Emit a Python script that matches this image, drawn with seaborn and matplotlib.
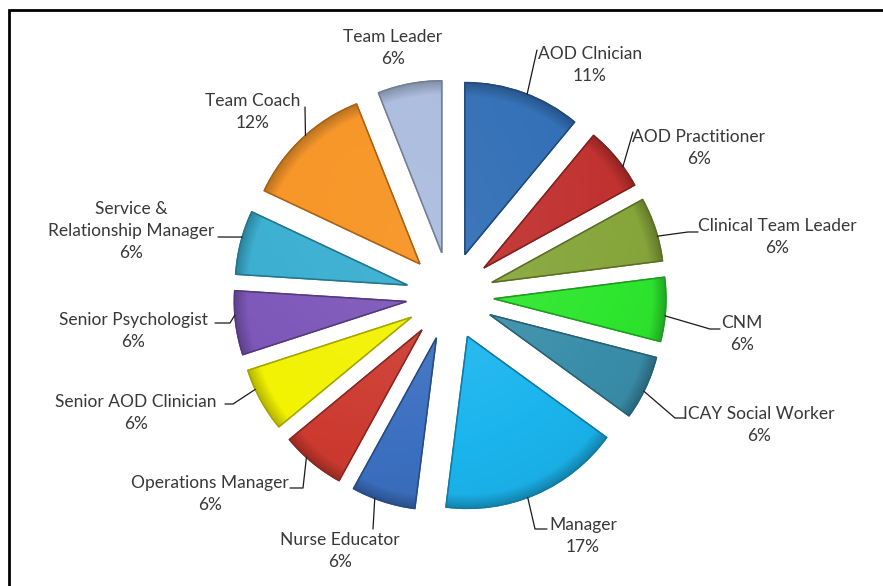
import numpy as np
import matplotlib
matplotlib.use("Agg")
import matplotlib.pyplot as plt
import seaborn as sns
from matplotlib.colors import to_rgb
from matplotlib.patches import Rectangle, Wedge

# ---- data -------------------------------------------------------------
roles = ["AOD Clnician", "AOD Practitioner", "Clinical Team Leader", "CNM",
         "ICAY Social Worker", "Manager", "Nurse Educator",
         "Operations Manager", "Senior AOD Clinician", "Senior Psychologist",
         "Service &\nRelationship Manager", "Team Coach", "Team Leader"]
shares = [11, 6, 6, 6, 6, 17, 6, 6, 6, 6, 6, 12, 6]

slice_colors = ["#2F6DB5", "#C0302E", "#86A53A", "#2EE62E", "#3A8EAA",
                "#1BB5EE", "#3B6FC0", "#CC3A30", "#F2F200", "#7B54B8",
                "#35ADD0", "#F7921F", "#A9BBDD"]

# ---- layout (pixel space, y measured from the top) --------------------
W, H = 883, 586
PIE_X, PIE_Y = 450, 296
RADIUS = 172
EXPLODE = 44

# angle (deg) on each wedge's rim where its leader line starts; None = no line
leader_angle = [68.8, 36.1, 15.6, -5.7, -26.4, -69.5, -111.0, -132.2,
                -155.2, -175.5, 163.8, 131.7, None]
# remaining vertices of each leader line
leader_path = [[(537, 50)], [(633, 132)], [(688, 232), (698, 232)],
               [(710, 329), (720, 329)], [(675, 418), (685, 418)],
               [(535, 529), (547, 529)], [(373, 529)],
               [(303, 488), (290, 488)], [(233, 404), (225, 404)],
               [(230, 323), (215, 323)], [(218, 237)], [(305, 107)], []]
# centre of each label block
label_pos = [(590, 65), (699, 148), (777, 237), (742, 334), (759, 425),
             (583, 536), (340, 551), (210, 494), (136, 413), (133, 331),
             (131, 231), (253, 112), (393, 48)]

sns.set_theme(style="white")
plt.rcParams["font.family"] = ["Lato", "DejaVu Sans"]

fig = plt.figure(figsize=(W / 100, H / 100), dpi=100)
fig.patch.set_facecolor("white")
ax = fig.add_axes([0, 0, 1, 1])

def fy(y):
    return H - y

def shade(rgb, f):
    rgb = np.asarray(rgb)
    if f >= 1:
        return rgb + (1 - rgb) * (f - 1)
    return rgb * f

wedges, _ = ax.pie(shares, colors=slice_colors, startangle=90,
                   counterclock=False, radius=RADIUS,
                   center=(PIE_X, fy(PIE_Y)),
                   explode=[EXPLODE] * len(shares),
                   wedgeprops=dict(linewidth=1.0))

ax.set_xlim(0, W)
ax.set_ylim(0, H)
ax.set_aspect("equal")
ax.axis("off")

# bevel-like shading inside each slice
yy, xx = np.mgrid[0:H, 0:W] + 0.5
for w, col in zip(wedges, slice_colors):
    base = np.array(to_rgb(col))
    cx, cy = w.center
    dx, dy = (xx - cx) / RADIUS, (yy - cy) / RADIUS
    d = np.hypot(dx, dy)
    s = np.clip(-0.55 * dx + 0.85 * dy, -1, 1)
    light = np.clip(0.07 * (1 - d) + 0.05 * s, -0.2, 0.15)
    rim = np.clip((d - 0.92) / 0.08, 0, 1)
    img = np.empty((H, W, 3))
    for k in range(3):
        c = base[k]
        v = np.where(light >= 0, c + (1 - c) * light, c * (1 + light))
        v = v * (1 - 0.25 * rim)
        img[..., k] = np.clip(v, 0, 1)
    im = ax.imshow(img, extent=(0, W, 0, H), origin="lower",
                   interpolation="bilinear", zorder=w.get_zorder() + 0.1)
    im.set_clip_path(w)
    w.set_edgecolor(shade(base, 0.7))
    ax.add_patch(Wedge(w.center, w.r, w.theta1, w.theta2, facecolor="none",
                       edgecolor=shade(base, 0.68), linewidth=1.1,
                       zorder=w.get_zorder() + 0.2))

# labels with leader lines
for w, role, pct, ang, path, pos in zip(wedges, roles, shares, leader_angle,
                                        leader_path, label_pos):
    if ang is not None:
        cx, cy = w.center
        sx = cx + w.r * np.cos(np.radians(ang))
        sy = cy + w.r * np.sin(np.radians(ang))
        px = [sx] + [p[0] for p in path]
        py = [sy] + [fy(p[1]) for p in path]
        ax.plot(px, py, color="#1a1a1a", lw=0.9, zorder=5)
    ax.text(pos[0], fy(pos[1]), f"{role}\n{pct}%", ha="center",
            va="center", fontsize=12.5, color="#383838", linespacing=1.5,
            zorder=6)

# chart border
ax.add_patch(Rectangle((9, -40), W + 40, fy(10) + 40, fill=False,
                       edgecolor="black", linewidth=2.0, zorder=7))

fig.savefig("out.png", dpi=100, facecolor="white")
